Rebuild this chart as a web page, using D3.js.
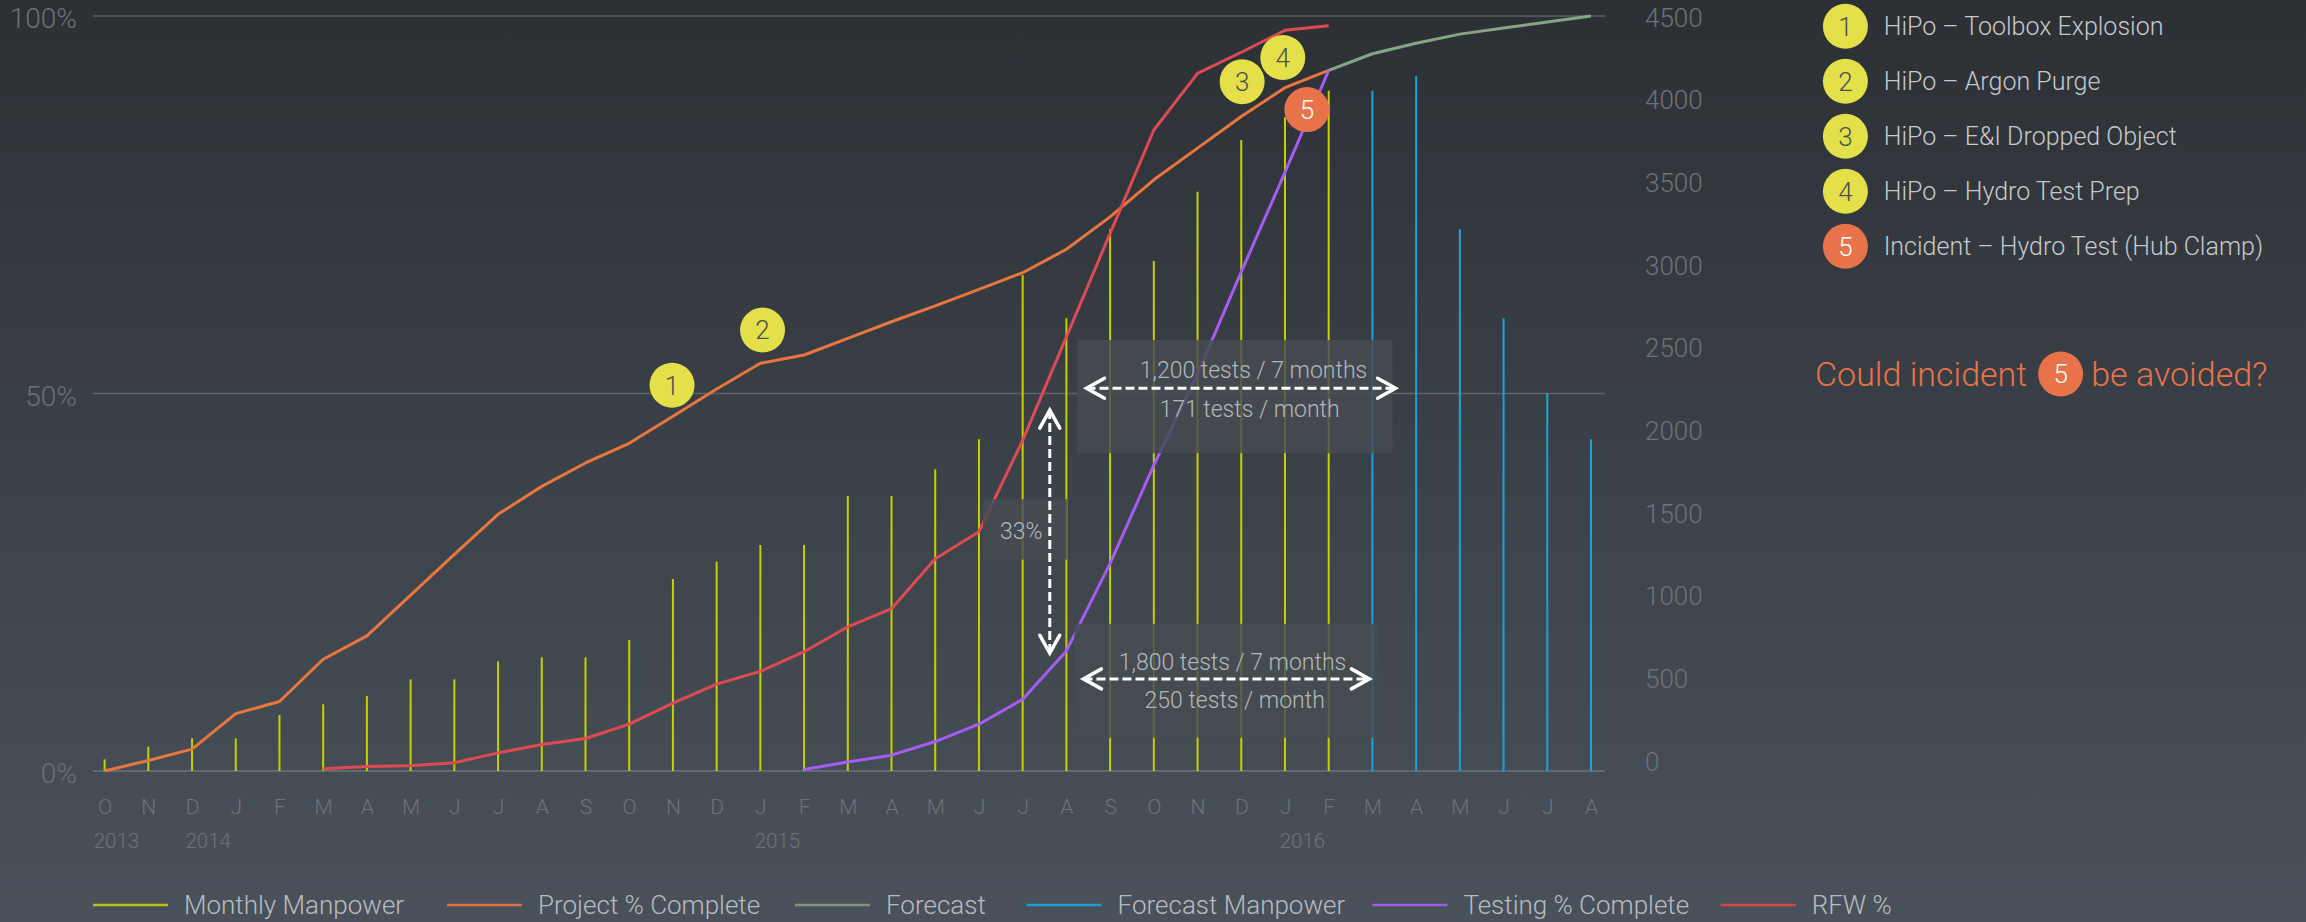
<!DOCTYPE html>
<html>
<head>
<meta charset="utf-8">
<script src="https://cdn.jsdelivr.net/npm/d3@7"></script>
<style>
  html, body { margin: 0; padding: 0; background: #2c3035; }
  svg { display: block; font-family: Roboto, "Noto Sans", sans-serif; font-weight: 300; }
</style>
</head>
<body>
<div id="chart"></div>
<script>
// month ticks, Oct 2013 .. Aug 2016
const months = ["O","N","D","J","F","M","A","M","J","J","A","S",
                "O","N","D","J","F","M","A","M","J","J","A","S",
                "O","N","D","J","F","M","A","M","J","J","A"];
const years = ["2013", "2014", "2015", "2016"];
const yearPos = [0.27, 2.37, 15.39, 27.4];

// monthly manpower (right axis), Oct 2013 .. Feb 2016
const manpower = [16, 93, 143, 143, 284, 349, 399, 500, 500, 609, 633, 633, 738,
                  1107, 1212, 1313, 1313, 1609, 1609, 1770, 1952, 2946, 2684, 3222,
                  3030, 3449, 3762, 3899, 4060];
// forecast manpower, Mar 2016 .. Aug 2016
const forecastManpowerStart = 29;
const forecastManpower = [4060, 4149, 3222, 2684, 2230, 1952];

// percentages (left axis)
const projectPct = [0, 1.4, 2.9, 7.6, 9.2, 14.8, 17.9, 23.3, 28.7, 34.0, 37.7, 40.8, 43.4,
                    47.0, 50.6, 54.0, 55.1, 57.3, 59.5, 61.6, 63.8, 66.0, 69.1, 73.4,
                    78.3, 82.5, 86.7, 90.5, 92.8];
const forecastStart = 28;
const forecastPct = [92.8, 95.0, 96.4, 97.6, 98.4, 99.2, 100];
const rfwStart = 5;
const rfwPct = [0.3, 0.6, 0.7, 1.1, 2.4, 3.5, 4.3, 6.2, 9.0, 11.5, 13.2, 15.8, 19.1, 21.5,
                28.1, 31.7, 43.8, 57.5, 71.2, 84.9, 92.4, 95.2, 98.1, 98.7];
const testingStart = 16;
const testingPct = [0.2, 1.2, 2.1, 3.9, 6.2, 9.5, 15.9, 27.5, 40.5, 52.6, 66.1, 79.3, 92.8];

const leftTicks = [0, 50, 100];
const rightTicks = [0, 500, 1000, 1500, 2000, 2500, 3000, 3500, 4000, 4500];

// event markers: month position and % height
const events = [
  {id: "1", i: 12.98, p: 51.1, label: "HiPo \u2013 Toolbox Explosion", kind: "hipo"},
  {id: "2", i: 15.05, p: 58.4, label: "HiPo \u2013 Argon Purge", kind: "hipo"},
  {id: "3", i: 26.02, p: 91.3, label: "HiPo \u2013 E&I Dropped Object", kind: "hipo"},
  {id: "4", i: 26.95, p: 94.5, label: "HiPo \u2013 Hydro Test Prep", kind: "hipo"},
  {id: "5", i: 27.5,  p: 87.6, label: "Incident \u2013 Hydro Test (Hub Clamp)", kind: "incident"}
];

// annotation boxes / arrows / texts in month and % units
const boxes = [
  {i0: 22.25, i1: 29.46, p0: 42.1, p1: 57.1},
  {i0: 22.18, i1: 29.12, p0: 4.4, p1: 19.5},
  {i0: 20.09, i1: 22.02, p0: 28.0, p1: 36.0}
];
const arrows = [
  {i0: 22.46, p0: 50.7, i1: 29.53, p1: 50.7},
  {i0: 22.39, p0: 12.2, i1: 28.93, p1: 12.2},
  {i0: 21.62, p0: 47.8, i1: 21.62, p1: 15.6}
];
const notes = [
  {i: 26.28, p: 53.2, text: "1,200 tests / 7 months"},
  {i: 26.19, p: 48.0, text: "171 tests / month"},
  {i: 25.80, p: 14.5, text: "1,800 tests / 7 months"},
  {i: 25.85, p: 9.4,  text: "250 tests / month"},
  {i: 20.97, p: 31.8, text: "33%"}
];

const legendItems = [
  {name: "Monthly Manpower",   color: "#b6c21e"},
  {name: "Project % Complete", color: "#e0703f"},
  {name: "Forecast",           color: "#7d967b"},
  {name: "Forecast Manpower",  color: "#1b9fd4"},
  {name: "Testing % Complete", color: "#9b5ee8"},
  {name: "RFW %",              color: "#d5454d"}
];
const legendX = [93, 447, 795, 1026.6, 1372.4, 1720.7];

const width = 2306, height = 922;
const plotL = 93, plotR = 1605;

const svg = d3.select("#chart").append("svg")
    .attr("width", width)
    .attr("height", height);

const defs = svg.append("defs");
const grad = defs.append("linearGradient")
    .attr("id", "bg").attr("x1", 0).attr("y1", 0).attr("x2", 0).attr("y2", 1);
grad.append("stop").attr("offset", "0%").attr("stop-color", "#2c3035");
grad.append("stop").attr("offset", "100%").attr("stop-color", "#49525a");
svg.append("rect").attr("width", width).attr("height", height).attr("fill", "url(#bg)");

let x = d3.scalePoint()
    .domain(d3.range(months.length))
    .range([104.6, 1591]);
let xi = i => x(0) + i * x.step();

let yL = d3.scaleLinear().domain([0, 100]).range([771, 16]);
let yR = d3.scaleLinear().domain([0, 4500]).range([762, 18]);

// gridlines
svg.append("g").selectAll("line")
  .data(leftTicks)
  .join("line")
    .attr("x1", plotL).attr("x2", plotR)
    .attr("y1", d => yL(d)).attr("y2", d => yL(d))
    .attr("stroke", d => d === 0 ? "#6c757c" : "#5e6367")
    .attr("stroke-width", 1.5);

// manpower bars
svg.append("g").selectAll("line")
  .data(manpower)
  .join("line")
    .attr("x1", (d, i) => x(i)).attr("x2", (d, i) => x(i))
    .attr("y1", yL(0)).attr("y2", d => yR(d))
    .attr("stroke", "#c6d000")
    .attr("stroke-width", 2);

svg.append("g").selectAll("line")
  .data(forecastManpower)
  .join("line")
    .attr("x1", (d, i) => x(i + forecastManpowerStart)).attr("x2", (d, i) => x(i + forecastManpowerStart))
    .attr("y1", yL(0)).attr("y2", d => yR(d))
    .attr("stroke", "#1ba3da")
    .attr("stroke-width", 2);

// percentage lines
let line = d3.line().x(d => x(d.i)).y(d => yL(d.v));
let series = [
  {start: 0, values: projectPct, color: "#e8763f"},
  {start: forecastStart, values: forecastPct, color: "#86a584"},
  {start: rfwStart, values: rfwPct, color: "#de4a52"},
  {start: testingStart, values: testingPct, color: "#a45cf2"}
];
svg.append("g").selectAll("path")
  .data(series)
  .join("path")
    .attr("d", s => line(s.values.map((v, k) => ({i: s.start + k, v: v}))))
    .attr("fill", "none")
    .attr("stroke", s => s.color)
    .attr("stroke-width", 3)
    .attr("stroke-linejoin", "round");

// annotation boxes
svg.append("g").selectAll("rect")
  .data(boxes)
  .join("rect")
    .attr("x", b => xi(b.i0)).attr("y", b => yL(b.p1))
    .attr("width", b => xi(b.i1) - xi(b.i0))
    .attr("height", b => yL(b.p0) - yL(b.p1))
    .attr("fill", "#454c52")
    .attr("opacity", 0.82);

// dashed arrows
let arrowG = svg.append("g");
arrows.forEach(a => {
  let x1 = xi(a.i0), y1 = yL(a.p0), x2 = xi(a.i1), y2 = yL(a.p1);
  arrowG.append("line")
    .attr("x1", x1).attr("y1", y1).attr("x2", x2).attr("y2", y2)
    .attr("stroke", "#ffffff").attr("stroke-width", 3)
    .attr("stroke-dasharray", "9,4");
  let len = Math.hypot(x2 - x1, y2 - y1);
  let ux = (x2 - x1) / len, uy = (y2 - y1) / len;
  [[x1, y1, 1], [x2, y2, -1]].forEach(([tx, ty, s]) => {
    let bx = tx + s * ux * 18, by = ty + s * uy * 18;
    arrowG.append("path")
      .attr("d", `M${bx - uy * 10},${by + ux * 10}L${tx},${ty}L${bx + uy * 10},${by - ux * 10}`)
      .attr("fill", "none").attr("stroke", "#ffffff").attr("stroke-width", 3.5)
      .attr("stroke-linecap", "round").attr("stroke-linejoin", "miter");
  });
});

svg.append("g").selectAll("text")
  .data(notes)
  .join("text")
    .attr("x", d => xi(d.i)).attr("y", d => yL(d.p))
    .attr("dy", "0.36em")
    .attr("text-anchor", "middle")
    .attr("fill", "#b4b8bc")
    .style("font-size", "23px")
    .text(d => d.text);

// event markers on chart
let evG = svg.append("g").selectAll("g")
  .data(events)
  .join("g")
    .attr("transform", d => `translate(${xi(d.i)},${yL(d.p)})`);
evG.append("circle").attr("r", 22.5)
  .attr("fill", d => d.kind === "incident" ? "#e8734a" : "#e4e04a");
evG.append("text")
  .attr("text-anchor", "middle").attr("dy", "0.36em")
  .attr("fill", d => d.kind === "incident" ? "#ffffff" : "#4a4f55")
  .style("font-size", "26px")
  .text(d => d.id);

// axes
let leftAxis = svg.append("g")
    .attr("transform", "translate(77,0)")
    .call(d3.axisLeft(yL).tickValues(leftTicks).tickSize(0).tickPadding(0).tickFormat(d => d + "%"));
leftAxis.select(".domain").remove();
leftAxis.selectAll("text")
    .attr("dy", "0.42em")
    .attr("fill", "#6b7176")
    .style("font-size", "28px")
    .style("font-family", "Roboto, sans-serif");

let rightAxis = svg.append("g")
    .attr("transform", "translate(1645,0)")
    .call(d3.axisRight(yR).tickValues(rightTicks).tickSize(0).tickPadding(0).tickFormat(d3.format("d")));
rightAxis.select(".domain").remove();
rightAxis.selectAll("text")
    .attr("fill", "#6c7379")
    .style("font-size", "26px")
    .style("font-family", "Roboto, sans-serif");

let bottomAxis = svg.append("g")
    .attr("transform", `translate(0,${yL(0)})`)
    .call(d3.axisBottom(x).tickSize(0).tickPadding(28.5).tickFormat(i => months[i]));
bottomAxis.select(".domain").remove();
bottomAxis.selectAll("text")
    .attr("fill", "#6d747a")
    .style("font-size", "21px")
    .style("font-family", "Roboto, sans-serif");

svg.append("g").selectAll("text")
  .data(years)
  .join("text")
    .attr("x", (d, k) => xi(yearPos[k]))
    .attr("y", 848)
    .attr("text-anchor", "middle")
    .attr("fill", "#6d747a")
    .style("font-size", "20.5px")
    .text(d => d);

// right-hand event legend
let evLegend = svg.append("g").selectAll("g")
  .data(events)
  .join("g")
    .attr("transform", (d, k) => `translate(1845.4,${26.3 + k * 55})`);
evLegend.append("circle").attr("r", 22.5)
  .attr("fill", d => d.kind === "incident" ? "#e8734a" : "#e4e04a");
evLegend.append("text")
  .attr("text-anchor", "middle").attr("dy", "0.36em")
  .attr("fill", d => d.kind === "incident" ? "#ffffff" : "#4a4f55")
  .style("font-size", "26px")
  .text(d => d.id);
evLegend.append("text")
  .attr("x", 38.3).attr("dy", "0.36em")
  .attr("fill", "#c6c9cc")
  .style("font-size", "25px")
  .text(d => d.label);

// question
let q = svg.append("g").attr("transform", "translate(1815,374)");
let q1 = q.append("text").attr("dy", "0.36em")
    .attr("fill", "#e8734a").style("font-size", "34px")
    .text("Could incident");
let qEnd = q1.node().getComputedTextLength();
q.append("circle").attr("cx", qEnd + 33.4).attr("r", 22.5).attr("fill", "#e8734a");
q.append("text").attr("x", qEnd + 33.4).attr("dy", "0.36em")
    .attr("text-anchor", "middle").attr("fill", "#ffffff").style("font-size", "26px")
    .text("5");
q.append("text").attr("x", qEnd + 64).attr("dy", "0.36em")
    .attr("fill", "#e8734a").style("font-size", "34px")
    .text("be avoided?");

// bottom legend
let lg = svg.append("g").selectAll("g")
  .data(legendItems)
  .join("g")
    .attr("transform", (d, k) => `translate(${legendX[k]},905)`);
lg.append("line").attr("x1", 0).attr("x2", 75)
  .attr("stroke", d => d.color).attr("stroke-width", 2.5);
lg.append("text").attr("x", 91).attr("dy", "0.36em")
  .attr("fill", "#b8bcc0").style("font-size", "26px")
  .text(d => d.name);
</script>
</body>
</html>
